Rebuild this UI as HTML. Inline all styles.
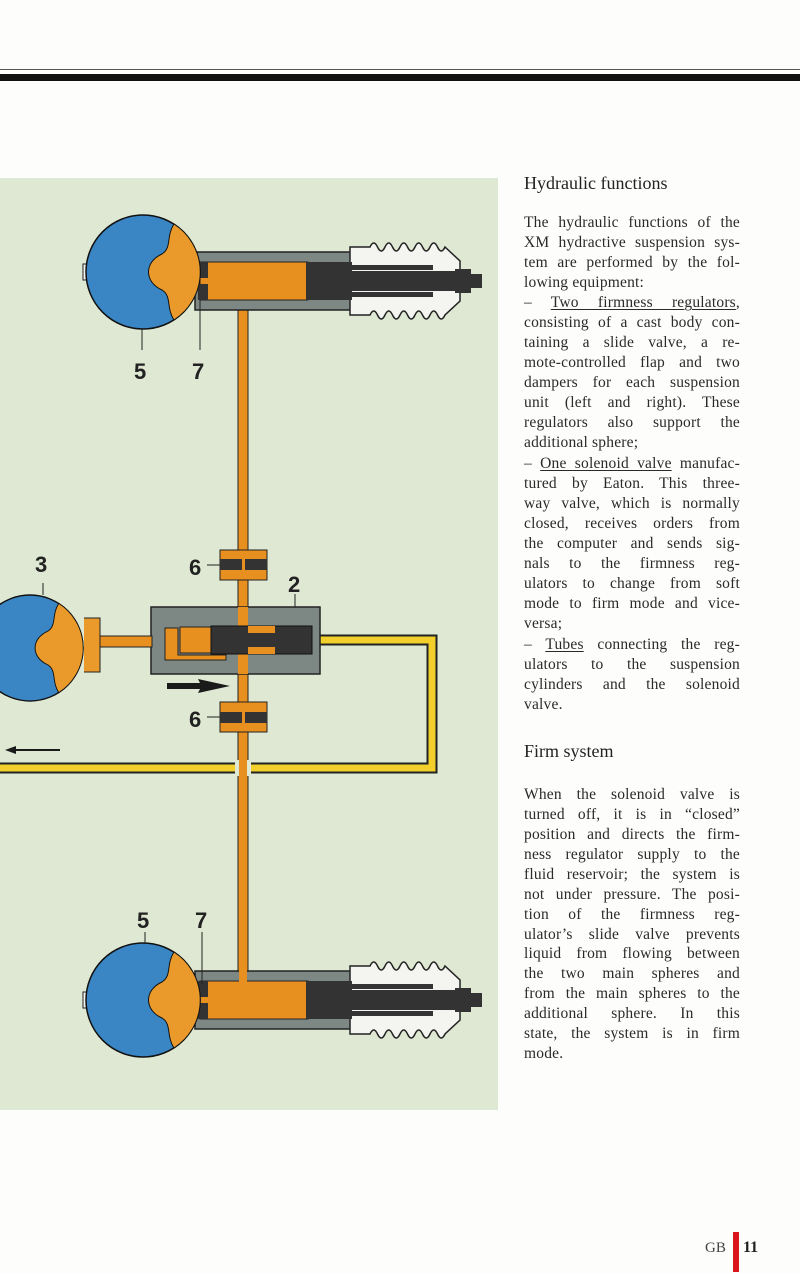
<!DOCTYPE html>
<html><head><meta charset="utf-8"><style>
body{margin:0;width:800px;height:1274px;background:#fdfdfb;position:relative;overflow:hidden;font-family:"Liberation Serif",serif;color:#2a2a2a}
.l{position:absolute;left:524px;width:216px;font-size:15.5px;line-height:18px;text-align:justify;text-align-last:justify;white-space:nowrap;letter-spacing:0.2px}
.e{text-align-last:left}
.h{position:absolute;left:524px;font-size:18px;color:#222}
u{text-decoration-thickness:1px;text-underline-offset:2px}
</style></head><body>
<div style="position:absolute;left:0;top:69px;width:800px;height:1px;background:#555"></div>
<div style="position:absolute;left:0;top:74px;width:800px;height:7px;background:#111"></div>
<svg width="800" height="1274" style="position:absolute;left:0;top:0">
<rect x="0" y="178" width="498" height="932" fill="#dfe8d3"/>
<defs>
<g id="cyl">
<rect x="195" y="-29" width="175" height="58" fill="#7d8783" stroke="#222" stroke-width="1.5"/>
<path d="M350,-34 L370,-34 q3.75,-8 7.5,0 t7.5,0 t7.5,0 t7.5,0 t7.5,0 t7.5,0 t7.5,0 t7.5,0 t7.5,0 t7.5,0 L460,-20 L460,20 L445,34 q-3.75,8 -7.5,0 t-7.5,0 t-7.5,0 t-7.5,0 t-7.5,0 t-7.5,0 t-7.5,0 t-7.5,0 t-7.5,0 t-7.5,0 L350,34 Z" fill="#f4f4f0" stroke="#222" stroke-width="1.5"/>
<rect x="200" y="-19" width="108" height="38" fill="#e8901f" stroke="#222" stroke-width="1"/>
<rect x="306" y="-19" width="46" height="38" fill="#333"/>
<rect x="330" y="-16" width="103" height="5" fill="#333"/>
<rect x="330" y="11" width="103" height="5" fill="#333"/>
<rect x="318" y="-10" width="150" height="20" fill="#333"/>
<rect x="455" y="-12" width="16" height="24" fill="#333"/>
<rect x="470" y="-7" width="12" height="14" fill="#333"/>
<rect x="198" y="-19" width="10" height="16" fill="#333"/>
<rect x="198" y="3" width="10" height="16" fill="#333"/>
</g>
<g id="sph">
<rect x="83" y="-8" width="6" height="16" fill="#f4f4f0" stroke="#222"/>
<circle cx="143" cy="0" r="57" fill="#3a85c4" stroke="#111" stroke-width="1.5"/>
<path d="M174,-48 C166,-36 172,-24 162,-18 C144,-10 144,10 162,18 C172,24 166,36 174,48 A57,57 0 0 0 174,-48 Z" fill="#ea9a2a" stroke="#111" stroke-width="1"/>
</g>
</defs>
<rect x="238" y="300" width="10" height="672" fill="#e8901f" stroke="#222" stroke-width="1"/>
<g transform="translate(0,281)"><use href="#cyl"/></g>
<g transform="translate(0,272)"><use href="#sph"/></g>
<line x1="142" y1="329" x2="142" y2="350" stroke="#222"/>
<line x1="200" y1="300" x2="200" y2="350" stroke="#222"/>
<text x="134" y="379" font-family="Liberation Sans" font-weight="bold" font-size="22" fill="#222">5</text>
<text x="192" y="379" font-family="Liberation Sans" font-weight="bold" font-size="22" fill="#222">7</text>
<g transform="translate(0,1000)"><use href="#cyl"/></g>
<g transform="translate(0,1000)"><use href="#sph"/></g>
<rect x="239" y="960" width="8" height="32" fill="#e8901f"/>
<line x1="145" y1="932" x2="145" y2="944" stroke="#222"/>
<line x1="202" y1="932" x2="202" y2="984" stroke="#222"/>
<text x="137" y="928" font-family="Liberation Sans" font-weight="bold" font-size="22" fill="#222">5</text>
<text x="195" y="928" font-family="Liberation Sans" font-weight="bold" font-size="22" fill="#222">7</text>
<path d="M312,640 L432,640 L432,768 L0,768" fill="none" stroke="#222" stroke-width="11"/>
<path d="M312,640 L432,640 L432,768 L0,768" fill="none" stroke="#f2cf2a" stroke-width="7"/>
<rect x="235" y="760" width="16" height="16" fill="#dfe8d3"/>
<rect x="239" y="758" width="8" height="20" fill="#e8901f"/>
<g>
<rect x="220" y="550" width="47" height="30" fill="#e8901f" stroke="#222"/>
<rect x="220" y="559" width="47" height="11" fill="#333"/>
<rect x="242" y="559" width="3" height="11" fill="#e8901f"/>
<rect x="220" y="702" width="47" height="30" fill="#e8901f" stroke="#222"/>
<rect x="220" y="712" width="47" height="11" fill="#333"/>
<rect x="242" y="712" width="3" height="11" fill="#e8901f"/>
</g>
<line x1="207" y1="565" x2="220" y2="565" stroke="#222"/>
<line x1="207" y1="717" x2="220" y2="717" stroke="#222"/>
<text x="189" y="575" font-family="Liberation Sans" font-weight="bold" font-size="22" fill="#222">6</text>
<text x="189" y="727" font-family="Liberation Sans" font-weight="bold" font-size="22" fill="#222">6</text>
<rect x="151" y="607" width="169" height="67" fill="#7d8783" stroke="#222" stroke-width="1.5"/>
<path d="M165,660 L165,628 L178,628 L178,655 L226,655 L226,660 Z" fill="#e8901f" stroke="#222"/>
<rect x="180" y="627" width="33" height="26" fill="#e8901f" stroke="#222"/>
<rect x="238" y="607" width="10" height="67" fill="#e8901f"/>
<rect x="211" y="626" width="101" height="28" fill="#333" stroke="#111"/>
<rect x="248" y="626" width="27" height="7" fill="#e8901f"/>
<rect x="248" y="647" width="27" height="7" fill="#e8901f"/>
<line x1="295" y1="594" x2="295" y2="607" stroke="#222"/>
<text x="288" y="592" font-family="Liberation Sans" font-weight="bold" font-size="22" fill="#222">2</text>
<rect x="100" y="636" width="52" height="11" fill="#e8901f" stroke="#222"/>
<path d="M84,618 L100,618 L100,672 L84,672" fill="#ea9a2a" stroke="#222"/>
<g transform="translate(-103,648) scale(0.93)"><use href="#sph"/></g>
<line x1="43" y1="583" x2="43" y2="595" stroke="#222"/>
<text x="35" y="572" font-family="Liberation Sans" font-weight="bold" font-size="22" fill="#222">3</text>
<path d="M167,683 L200,683 L198,679 L230,686 L198,693 L200,689 L167,689Z" fill="#1a1a1a"/>
<path d="M60,749 L16,749 L16,746 L5,750 L16,754 L16,751 L60,751Z" fill="#1a1a1a"/>
</svg>
<div class="h" style="top:173px">Hydraulic functions</div>
<div style="position:absolute;top:214px">
<div class="l" style="top:0">The hydraulic functions of the</div>
<div class="l" style="top:20px">XM hydractive suspension sys-</div>
<div class="l" style="top:40px">tem are performed by the fol-</div>
<div class="l e" style="top:60px">lowing equipment:</div>
<div class="l" style="top:80px">– <u>Two firmness regulators</u>,</div>
<div class="l" style="top:100px">consisting of a cast body con-</div>
<div class="l" style="top:120px">taining a slide valve, a re-</div>
<div class="l" style="top:140px">mote-controlled flap and two</div>
<div class="l" style="top:160px">dampers for each suspension</div>
<div class="l" style="top:180px">unit (left and right). These</div>
<div class="l" style="top:200px">regulators also support the</div>
<div class="l e" style="top:220px">additional sphere;</div>
<div class="l" style="top:241px">– <u>One solenoid valve</u> manufac-</div>
<div class="l" style="top:261px">tured by Eaton. This three-</div>
<div class="l" style="top:281px">way valve, which is normally</div>
<div class="l" style="top:301px">closed, receives orders from</div>
<div class="l" style="top:321px">the computer and sends sig-</div>
<div class="l" style="top:341px">nals to the firmness reg-</div>
<div class="l" style="top:361px">ulators to change from soft</div>
<div class="l" style="top:381px">mode to firm mode and vice-</div>
<div class="l e" style="top:401px">versa;</div>
<div class="l" style="top:422px">– <u>Tubes</u> connecting the reg-</div>
<div class="l" style="top:442px">ulators to the suspension</div>
<div class="l" style="top:462px">cylinders and the solenoid</div>
<div class="l e" style="top:482px">valve.</div>
</div>
<div class="h" style="top:741px">Firm system</div>
<div style="position:absolute;top:786px">
<div class="l" style="top:0">When the solenoid valve is</div>
<div class="l" style="top:20px">turned off, it is in “closed”</div>
<div class="l" style="top:40px">position and directs the firm-</div>
<div class="l" style="top:60px">ness regulator supply to the</div>
<div class="l" style="top:80px">fluid reservoir; the system is</div>
<div class="l" style="top:100px">not under pressure. The posi-</div>
<div class="l" style="top:120px">tion of the firmness reg-</div>
<div class="l" style="top:140px">ulator’s slide valve prevents</div>
<div class="l" style="top:159px">liquid from flowing between</div>
<div class="l" style="top:179px">the two main spheres and</div>
<div class="l" style="top:199px">from the main spheres to the</div>
<div class="l" style="top:219px">additional sphere. In this</div>
<div class="l" style="top:239px">state, the system is in firm</div>
<div class="l e" style="top:259px">mode.</div>
</div>
<div style="position:absolute;left:705px;top:1240px;font-size:15px;color:#444">GB</div>
<div style="position:absolute;left:733px;top:1232px;width:6px;height:40px;background:#d8141c"></div>
<div style="position:absolute;left:743px;top:1239px;font-size:16px;font-weight:bold;color:#222">11</div>
</body></html>
